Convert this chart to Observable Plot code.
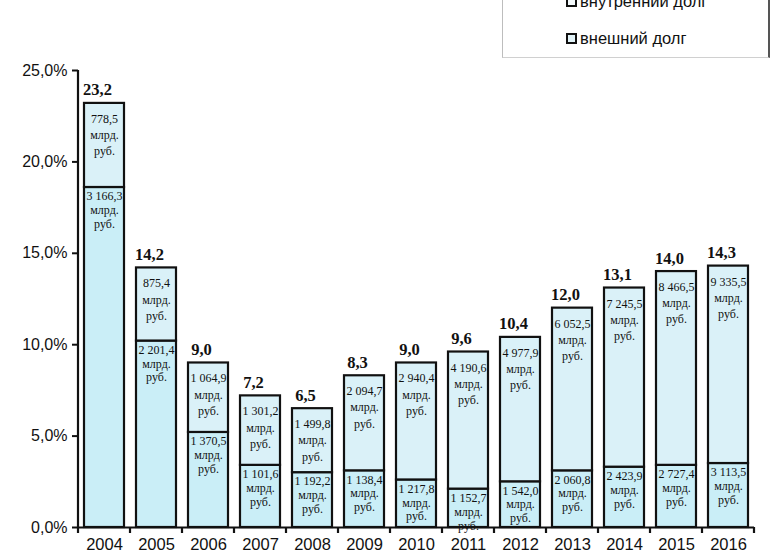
<!DOCTYPE html>
<html>
<head>
<meta charset="utf-8">
<script src="https://cdn.jsdelivr.net/npm/d3@7"></script>
<script src="https://cdn.jsdelivr.net/npm/@observablehq/plot@0.6"></script>
<style>
  html, body { margin: 0; padding: 0; background: #fff; }
  #wrap { position: relative; width: 779px; height: 556px; overflow: hidden; }
  #legend { position: absolute; left: 502px; top: -22px; width: 265px; height: 79px;
    border-left: 1px solid #bdbdbd; border-right: 2px solid #555; border-bottom: 1px solid #d0d0d0;
    font-family: "Liberation Sans", Arial, sans-serif; font-size: 16.5px; color: #111; }
  .item { position: absolute; left: 63px; display: flex; align-items: center; }
  .sw { width: 7px; height: 7px; border: 2px solid #111; margin-right: 3px; }
</style>
</head>
<body>
<div id="wrap"><div id="legend"></div><div id="chart"></div></div>
<script>
const years = ["2004","2005","2006","2007","2008","2009","2010","2011","2012","2013","2014","2015","2016"];
const totals = [23.2, 14.2, 9.0, 7.2, 6.5, 8.3, 9.0, 9.6, 10.4, 12.0, 13.1, 14.0, 14.3];
const externalShare = [18.6, 10.2, 5.2, 3.4, 3.0, 3.1, 2.6, 2.1, 2.5, 3.1, 3.3, 3.4, 3.5];
const externalRub = [3166.3, 2201.4, 1370.5, 1101.6, 1192.2, 1138.4, 1217.8, 1152.7, 1542.0, 2060.8, 2423.9, 2727.4, 3113.5];
const internalRub = [778.5, 875.4, 1064.9, 1301.2, 1499.8, 2094.7, 2940.4, 4190.6, 4977.9, 6052.5, 7245.5, 8466.5, 9335.5];
const yTicks = [0, 5, 10, 15, 20, 25];
const seriesNames = ["внутренний долг", "внешний долг"];
const seriesColors = ["#daf1f8", "#caeef7"];

const loc = d3.formatLocale({decimal: ",", thousands: "\u00a0", grouping: [3], currency: ["", ""]});
const fmtRub = loc.format(",.1f");
const fmt1 = loc.format(".1f");

const rows = [];
years.forEach((yr, i) => {
  rows.push({year: yr, series: seriesNames[1], y1: 0, y2: externalShare[i], rub: externalRub[i]});
  rows.push({year: yr, series: seriesNames[0], y1: externalShare[i], y2: totals[i], rub: internalRub[i]});
});
const totalRows = years.map((yr, i) => ({year: yr, total: totals[i]}));
const serif = "'Liberation Serif', 'Times New Roman', serif";
const segLabel = d => fmtRub(d.rub) + "\nмлрд.\nруб.";

const plot = Plot.plot({
  width: 779,
  height: 556,
  marginLeft: 78,
  marginRight: 25,
  marginTop: 70,
  marginBottom: 29,
  style: {fontFamily: "'Liberation Sans', Arial, sans-serif", color: "#111", background: "#fff"},
  x: {domain: years, paddingInner: 0.23, paddingOuter: 0.115, label: null},
  y: {domain: [0, 25], label: null},
  color: {domain: seriesNames, range: seriesColors},
  marks: [
    Plot.rectY(rows, {x: "year", y1: "y1", y2: "y2", fill: "series", stroke: "#111", strokeWidth: 2.2}),
    Plot.text(rows.filter(d => d.series === seriesNames[0]), {x: "year", y: "y2", text: segLabel,
      lineAnchor: "top", dy: 8, lineHeight: 1.35, fontSize: 12, fontFamily: serif, fill: "#111"}),
    Plot.text(rows.filter(d => d.series === seriesNames[1]), {x: "year", y: "y2", text: segLabel,
      lineAnchor: "top", dy: 3, lineHeight: 1.15, fontSize: 12, fontFamily: serif, fill: "#111"}),
    Plot.text(totalRows, {x: "year", y: "total", text: d => fmt1(d.total),
      lineAnchor: "bottom", dy: -8, dx: -7, fontSize: 16.5, fontWeight: "bold",
      fontFamily: serif, fill: "#111"}),
    Plot.ruleY([0], {stroke: "#111", strokeWidth: 2.2}),
    Plot.axisY({ticks: yTicks, tickFormat: d => fmt1(d) + "%", tickSize: 6, tickPadding: 5,
      fontSize: 16, strokeWidth: 2, label: null}),
    Plot.axisX({tickSize: 0, tickPadding: 11, fontSize: 16.5, label: null})
  ]
});
document.getElementById("chart").appendChild(plot);

// axis line and band-boundary ticks from the library's own scales
const xs = plot.scale("x"), ys = plot.scale("y");
const half = (xs.step - xs.bandwidth) / 2;
const x0 = xs.apply(years[0]) - half;
const svg = d3.select(plot);
const g = svg.append("g").attr("stroke", "#111").attr("stroke-width", 2.2);
g.append("line").attr("x1", x0).attr("x2", x0).attr("y1", ys.apply(0)).attr("y2", ys.apply(25));
for (let i = 0; i <= years.length; i++) {
  const bx = x0 + i * xs.step;
  g.append("line").attr("x1", bx).attr("x2", bx).attr("y1", ys.apply(0)).attr("y2", ys.apply(0) + 6);
}

// legend
const legend = document.getElementById("legend");
seriesNames.forEach((name, i) => {
  const it = document.createElement("div");
  it.className = "item";
  it.style.top = (i === 0 ? 14 : 51) + "px";
  const sw = document.createElement("span");
  sw.className = "sw";
  sw.style.background = i === 0 ? "#f4fafc" : "#e2f3f8";
  const tx = document.createElement("span");
  tx.textContent = name;
  it.appendChild(sw); it.appendChild(tx);
  legend.appendChild(it);
});
</script>
</body>
</html>
